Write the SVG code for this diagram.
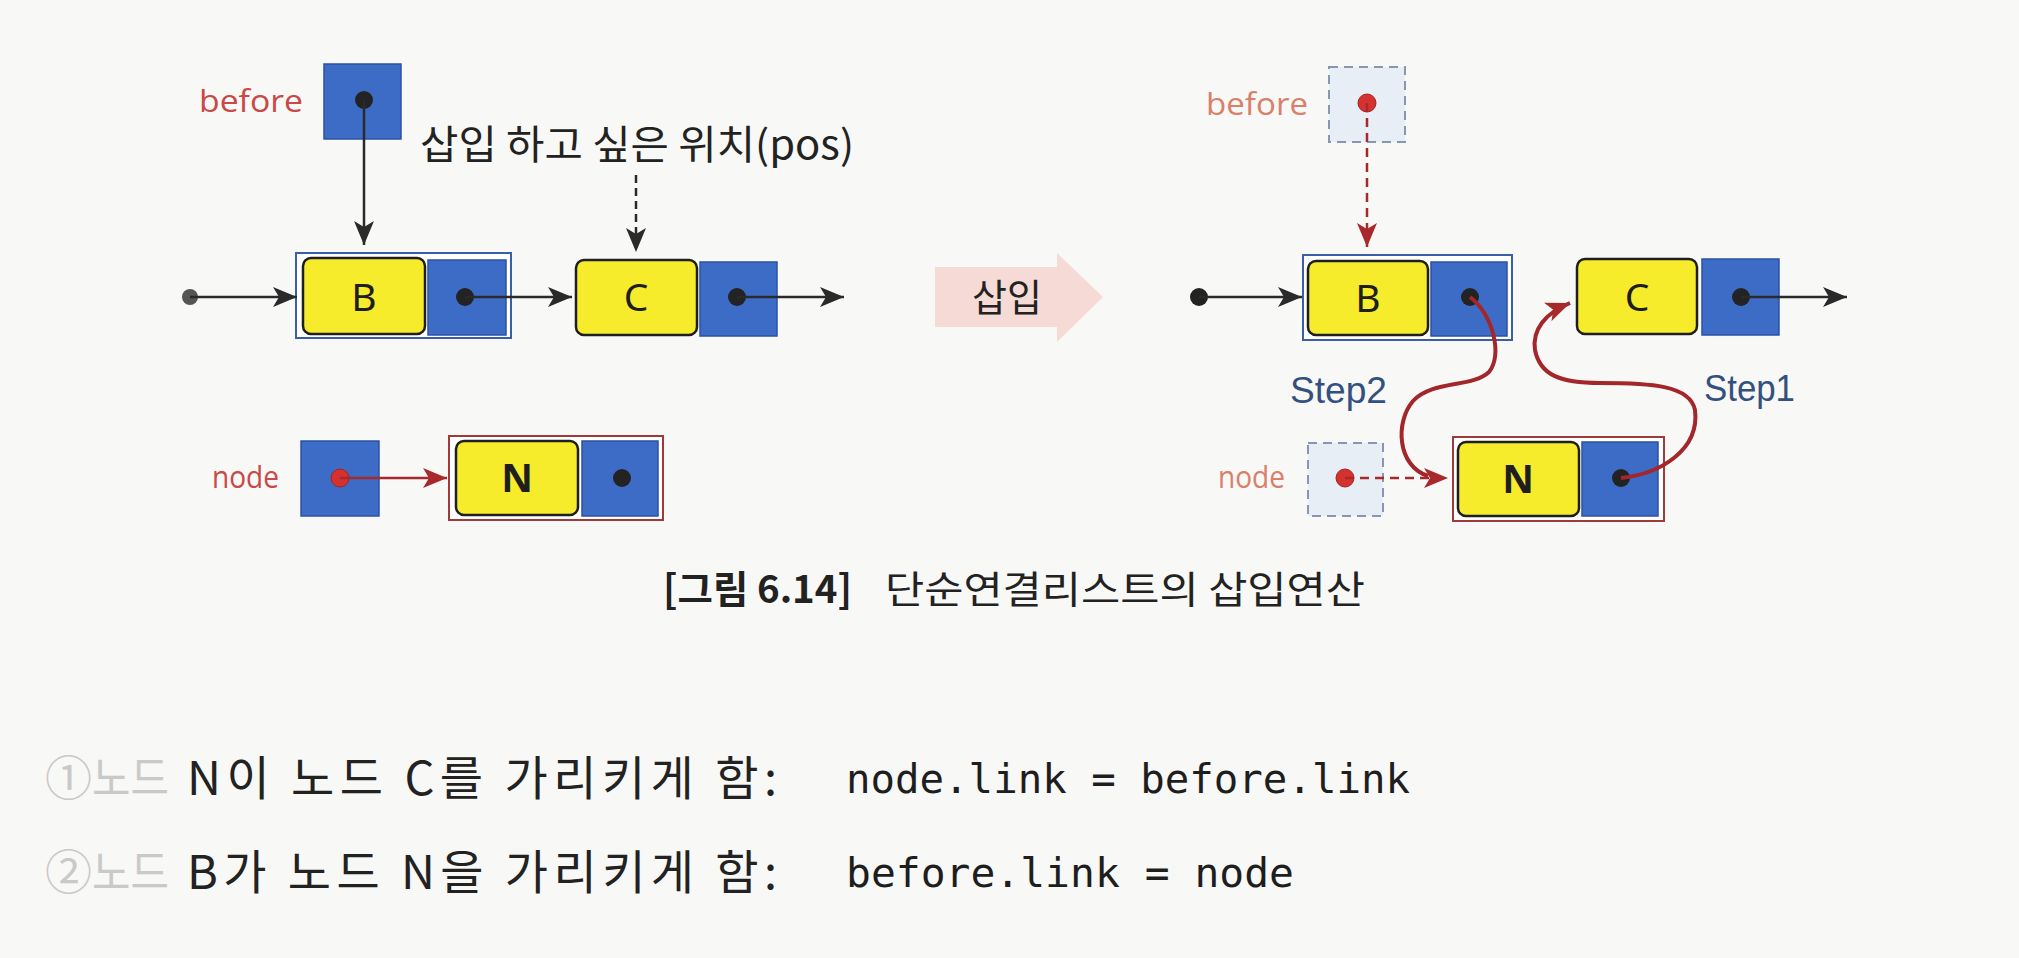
<svg xmlns="http://www.w3.org/2000/svg" width="2019" height="958" viewBox="0 0 2019 958">
<defs>
<style>
.bg{fill:#f8f8f6}
.cell{fill:#3d6cc6;stroke:#2b52a3;stroke-width:1.5}
.data{fill:#f6ec2c;stroke:#1e1e1e;stroke-width:2.5}
.outerB{fill:#ffffff;stroke:#3b5ea8;stroke-width:2}
.outerN{fill:#ffffff;stroke:#9e3a3a;stroke-width:2}
.ghost{fill:#e8eef5;stroke:#8597b3;stroke-width:2;stroke-dasharray:9 6}
.dot{fill:#232323}
.gdot{fill:#555555}
.rdot{fill:#d63131;stroke:#a52222;stroke-width:1}
.letter{font-family:'Noto Sans','Liberation Sans',sans-serif;font-size:39px;fill:#1e1e1e;text-anchor:middle}
.lblr{font-family:'Open Sans','Noto Sans',sans-serif;font-size:31px;fill:#c94848}
.lbls{font-family:'Open Sans','Noto Sans',sans-serif;font-size:31px;fill:#d9806a}
.step{font-family:'Liberation Sans',sans-serif;font-size:37px;fill:#34507f}
.kr{font-family:'Noto Sans CJK KR',sans-serif;fill:#222222}
.mono{font-family:'DejaVu Sans Mono','Liberation Mono',monospace;fill:#1e1e1e}
.blk{stroke:#2a2a2a;stroke-width:2.5;fill:none}
.red{stroke:#a8292c;stroke-width:2.5;fill:none}
.curve{stroke:#a3262a;stroke-width:4;fill:none}
</style>
<marker id="ah" viewBox="0 0 24 20" refX="24" refY="10" markerWidth="24" markerHeight="20" markerUnits="userSpaceOnUse" orient="auto"><path d="M0,0 L24,10 L0,20 L6,10 z" fill="#2a2a2a"/></marker>
<marker id="ahr" viewBox="0 0 24 20" refX="24" refY="10" markerWidth="24" markerHeight="20" markerUnits="userSpaceOnUse" orient="auto"><path d="M0,0 L24,10 L0,20 L6,10 z" fill="#a8292c"/></marker>
</defs>
<rect class="bg" x="0" y="0" width="2019" height="958"/>

<!-- LEFT DIAGRAM -->
<g id="before-left">
<text class="lblr" x="199" y="112" textLength="104" lengthAdjust="spacingAndGlyphs">before</text>
<rect class="cell" x="324" y="64" width="77" height="75"/>
<circle class="dot" cx="364" cy="100" r="9"/>
</g>
<g id="pos-label">
<text class="kr" x="420" y="159" font-size="40" textLength="434" lengthAdjust="spacingAndGlyphs">삽입 하고 싶은 위치(pos)</text>
</g>
<g id="start-left">
<circle class="gdot" cx="190" cy="297" r="8"/>
</g>
<g id="node-B-left">
<rect class="outerB" x="296" y="253" width="215" height="85"/>
<rect class="data" x="303" y="258" width="122" height="76" rx="8"/>
<rect class="cell" x="428" y="260" width="78" height="75"/>
<text class="letter" x="364" y="311">B</text>
<circle class="dot" cx="465" cy="297" r="9"/>
</g>
<g id="node-C-left">
<rect class="data" x="576" y="260" width="121" height="75" rx="8"/>
<rect class="cell" x="700" y="262" width="77" height="74"/>
<text class="letter" x="636" y="311">C</text>
<circle class="dot" cx="737" cy="297" r="9"/>
</g>
<g id="node-ptr-left">
<text class="lblr" x="212" y="488" textLength="67" lengthAdjust="spacingAndGlyphs">node</text>
<rect class="cell" x="301" y="441" width="78" height="75"/>
<circle class="rdot" cx="340" cy="478" r="9"/>
</g>
<g id="node-N-left">
<rect class="outerN" x="449" y="436" width="214" height="84"/>
<rect class="data" x="456" y="441" width="122" height="74" rx="8"/>
<rect class="cell" x="582" y="441" width="76" height="75"/>
<text class="letter" x="517" y="492" font-weight="bold">N</text>
<circle class="dot" cx="622" cy="478" r="9"/>
</g>

<!-- INSERT ARROW -->
<g id="insert-arrow">
<polygon points="935,267 1057,267 1057,253 1103,297 1057,342 1057,327 935,327" fill="#f6dad5"/>
<text class="kr" x="1007" y="311" font-size="38" text-anchor="middle">삽입</text>
</g>

<!-- RIGHT DIAGRAM -->
<g id="before-right">
<text class="lbls" x="1206" y="115" textLength="102" lengthAdjust="spacingAndGlyphs">before</text>
<rect class="ghost" x="1329" y="67" width="76" height="75"/>
<circle class="rdot" cx="1367" cy="103" r="9"/>
</g>
<g id="start-right">
<circle class="dot" cx="1199" cy="297" r="9"/>
</g>
<g id="node-B-right">
<rect class="outerB" x="1303" y="255" width="209" height="85"/>
<rect class="data" x="1308" y="261" width="120" height="74" rx="8"/>
<rect class="cell" x="1431" y="262" width="76" height="74"/>
<text class="letter" x="1368" y="312">B</text>
<circle class="dot" cx="1470" cy="297" r="9"/>
</g>
<g id="node-C-right">
<rect class="data" x="1577" y="259" width="120" height="75" rx="8"/>
<rect class="cell" x="1702" y="259" width="77" height="76"/>
<text class="letter" x="1637" y="311">C</text>
<circle class="dot" cx="1741" cy="297" r="9"/>
</g>
<g id="step-labels">
<text class="step" x="1290" y="403" textLength="97" lengthAdjust="spacingAndGlyphs">Step2</text>
<text class="step" x="1704" y="401" textLength="91" lengthAdjust="spacingAndGlyphs">Step1</text>
</g>
<g id="node-ptr-right">
<text class="lbls" x="1218" y="488" textLength="67" lengthAdjust="spacingAndGlyphs">node</text>
<rect class="ghost" x="1308" y="443" width="75" height="73"/>
<circle class="rdot" cx="1345" cy="478" r="9"/>
</g>
<g id="node-N-right">
<rect class="outerN" x="1453" y="437" width="211" height="84"/>
<rect class="data" x="1458" y="442" width="121" height="74" rx="8"/>
<rect class="cell" x="1582" y="442" width="76" height="74"/>
<text class="letter" x="1518" y="493" font-weight="bold">N</text>
<circle class="dot" cx="1621" cy="478" r="9"/>
</g>

<!-- CONNECTORS -->
<g id="connectors">
<line class="blk" x1="364" y1="100" x2="364" y2="245" marker-end="url(#ah)"/>
<line class="blk" x1="636" y1="175" x2="636" y2="252" stroke-dasharray="8 5" marker-end="url(#ah)"/>
<line class="blk" x1="190" y1="297" x2="297" y2="297" marker-end="url(#ah)"/>
<line class="blk" x1="465" y1="297" x2="572" y2="297" marker-end="url(#ah)"/>
<line class="blk" x1="737" y1="297" x2="844" y2="297" marker-end="url(#ah)"/>
<line class="red" x1="340" y1="478" x2="447" y2="478" marker-end="url(#ahr)"/>
<line class="blk" x1="1199" y1="297" x2="1302" y2="297" marker-end="url(#ah)"/>
<line class="blk" x1="1741" y1="297" x2="1847" y2="297" marker-end="url(#ah)"/>
<line class="red" x1="1367" y1="103" x2="1367" y2="247" stroke-dasharray="9 6" marker-end="url(#ahr)"/>
<line class="red" x1="1345" y1="478" x2="1448" y2="478" stroke-dasharray="9 6" marker-end="url(#ahr)"/>
<path class="curve" d="M1470 297 C1493 315 1503 355 1489 372 C1472 388 1432 380 1413 401 C1395 422 1397 466 1428 476"/>
<path class="curve" d="M1621 478 C1660 474 1700 450 1695 410 C1690 385 1650 383 1600 383 C1560 383 1540 375 1535 350 C1532 330 1545 313 1570 303" marker-end="url(#ahr)"/>
</g>

<!-- CAPTION -->
<g id="caption">
<text class="kr" x="663" y="603" font-size="38" font-weight="bold" fill="#2e5c43" textLength="189" lengthAdjust="spacingAndGlyphs">[그림 6.14]</text>
<text class="kr" x="885" y="603" font-size="38" textLength="480" lengthAdjust="spacingAndGlyphs">단순연결리스트의 삽입연산</text>
</g>

<!-- EXPLANATION LINES -->
<g id="line1">
<text class="kr" y="795" font-size="47"><tspan x="45" fill="#c9c9c9">①</tspan><tspan x="92" fill="#c9c9c9" textLength="77" lengthAdjust="spacingAndGlyphs">노드</tspan><tspan x="187" textLength="590" lengthAdjust="spacing">N이 노드 C를 가리키게 함:</tspan></text>
<text class="mono" x="846" y="793" font-size="41" textLength="564" lengthAdjust="spacingAndGlyphs">node.link = before.link</text>
</g>
<g id="line2">
<text class="kr" y="889" font-size="47"><tspan x="45" fill="#c9c9c9">②</tspan><tspan x="92" fill="#c9c9c9" textLength="77" lengthAdjust="spacingAndGlyphs">노드</tspan><tspan x="187" textLength="590" lengthAdjust="spacing">B가 노드 N을 가리키게 함:</tspan></text>
<text class="mono" x="846" y="887" font-size="41" textLength="448" lengthAdjust="spacingAndGlyphs">before.link = node</text>
</g>
</svg>
